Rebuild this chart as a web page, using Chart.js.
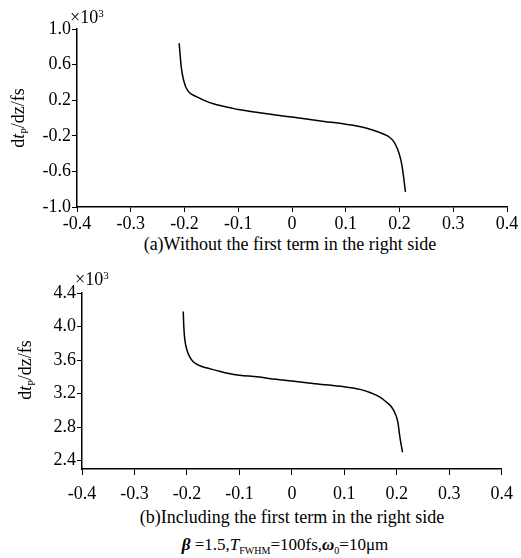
<!DOCTYPE html>
<html>
<head>
<meta charset="utf-8">
<script src="https://cdn.jsdelivr.net/npm/chart.js@4.4.1/dist/chart.umd.min.js"></script>
<style>
  body { margin: 0; background: #fff; width: 521px; height: 558px; position: relative; overflow: hidden;
         font-family: "Liberation Serif", "Times New Roman", serif; }
  canvas { position: absolute; left: 0; }
  .cap { position: absolute; left: 0; text-align: center; font-size: 18px; line-height: 18px; color: #000; white-space: nowrap; }
  .cap sub { font-size: 10px; vertical-align: -4px; line-height: 0; }
</style>
</head>
<body>
<canvas id="chartA" width="521" height="232" style="top:0"></canvas>
<canvas id="chartB" width="521" height="240" style="top:264px"></canvas>
<div class="cap" style="top:235px;width:580px">(a)Without the first term in the right side</div>
<div class="cap" style="top:508px;width:584px">(b)Including the first term in the right side</div>
<div class="cap" style="top:536px;width:570px;font-size:17px"><b><i>β</i></b> =1.5,<i>T</i><sub>FWHM</sub>=100fs,<b><i>ω</i></b><sub>0</sub>=10μm</div>

<script>
// x axis (z) ticks shared by both panels
const zTicks = [-0.4, -0.3, -0.2, -0.1, 0, 0.1, 0.2, 0.3, 0.4];

// panel (a): without the first term, values in units of 10^3 fs
const yTicksA = [-1.0, -0.6, -0.2, 0.2, 0.6, 1.0];
const zA  = [-0.210, -0.208, -0.206, -0.203, -0.200, -0.197, -0.190, -0.178, -0.160, -0.146, -0.130, -0.115, -0.100, -0.080, -0.050, -0.020, 0, 0.030, 0.060, 0.100, 0.130, 0.150, 0.170, 0.180, 0.190, 0.197, 0.202, 0.205, 0.208, 0.211];
const dtA = [0.84, 0.70, 0.57, 0.46, 0.39, 0.34, 0.28, 0.24, 0.19, 0.16, 0.135, 0.115, 0.095, 0.076, 0.05, 0.026, 0.01, -0.014, -0.038, -0.07, -0.10, -0.135, -0.18, -0.21, -0.27, -0.36, -0.46, -0.55, -0.68, -0.83];

// panel (b): including the first term
const yTicksB = [2.4, 2.8, 3.2, 3.6, 4.0, 4.4];
const zB  = [-0.207, -0.206, -0.204, -0.200, -0.195, -0.188, -0.178, -0.165, -0.146, -0.120, -0.100, -0.066, -0.030, 0, 0.040, 0.100, 0.130, 0.150, 0.170, 0.180, 0.190, 0.197, 0.202, 0.205, 0.208, 0.211];
const dtB = [4.18, 4.00, 3.84, 3.72, 3.64, 3.58, 3.54, 3.51, 3.48, 3.44, 3.42, 3.40, 3.37, 3.35, 3.32, 3.28, 3.25, 3.21, 3.15, 3.10, 3.04, 2.96, 2.86, 2.72, 2.60, 2.50];

const tickFont = { family: '"Liberation Serif", "Times New Roman", serif', size: 18 };

// draws the "×10³" multiplier and the rotated y title dt_P/dz/fs
const axisText = {
  id: 'axisText',
  afterDraw(chart) {
    const o = chart.options.plugins.axisText;
    const { ctx, chartArea: a } = chart;
    ctx.save();
    ctx.fillStyle = '#000';
    ctx.textBaseline = 'alphabetic';
    ctx.font = '18px "Liberation Serif"';
    const x0 = a.left - 7;
    ctx.fillText('×10', x0, a.top - o.expDrop);
    const w = ctx.measureText('×10').width;
    ctx.font = '11px "Liberation Serif"';
    ctx.fillText('3', x0 + w, a.top - o.expDrop - 6);

    // y title pieces
    const parts = [
      { t: 'd', f: '18px "Liberation Serif"', dy: 0 },
      { t: 't', f: 'italic 18px "Liberation Serif"', dy: 0 },
      { t: 'P', f: '10px "Liberation Serif"', dy: 4 },
      { t: '/dz/fs', f: '18px "Liberation Serif"', dy: 0 }
    ];
    let total = 0;
    parts.forEach(p => { ctx.font = p.f; p.w = ctx.measureText(p.t).width; total += p.w; });
    const cy = (a.top + a.bottom) / 2 + o.titleShift;
    ctx.translate(o.titleX, cy);
    ctx.rotate(-Math.PI / 2);
    let x = -total / 2;
    parts.forEach(p => { ctx.font = p.f; ctx.fillText(p.t, x, p.dy); x += p.w; });
    ctx.restore();
  }
};

function makeChart(id, z, dt, yTicks, yMin, yMax, p) {
  return new Chart(document.getElementById(id), {
    type: 'scatter',
    data: {
      datasets: [{
        data: z.map((v, i) => ({ x: v, y: dt[i] })),
        showLine: true,
        borderColor: '#000',
        borderWidth: 1.5,
        pointRadius: 0,
        cubicInterpolationMode: 'monotone'
      }]
    },
    options: {
      responsive: false,
      animation: false,
      layout: { padding: { top: 29, right: 14, bottom: 0, left: 0 } },
      plugins: {
        legend: { display: false },
        tooltip: { enabled: false },
        axisText: { titleX: p.titleX, titleShift: p.titleShift, expDrop: p.expDrop }
      },
      scales: {
        x: {
          type: 'linear', min: -0.4, max: 0.4,
          afterBuildTicks: ax => { ax.ticks = zTicks.map(v => ({ value: v })); },
          afterFit: ax => { ax.height = p.xHeight; },
          grid: { drawOnChartArea: false, drawTicks: true, tickLength: p.xTickLen, color: '#000' },
          border: { display: true, color: '#000', width: 1.5 },
          ticks: { color: '#000', font: tickFont, padding: p.xPad, maxRotation: 0,
                   callback: v => (v === 0 ? '0' : v.toFixed(1)) }
        },
        y: {
          type: 'linear', min: yMin, max: yMax,
          afterBuildTicks: ax => { ax.ticks = yTicks.map(v => ({ value: v })); },
          afterFit: ax => { ax.width = p.yWidth; },
          grid: { drawOnChartArea: false, drawTicks: true, tickLength: 5, color: '#000' },
          border: { display: true, color: '#000', width: 1.5 },
          ticks: { color: '#000', font: tickFont, padding: 1, callback: v => v.toFixed(1) }
        }
      }
    },
    plugins: [axisText]
  });
}

makeChart('chartA', zA, dtA, yTicksA, -1.0, 1.0,
  { yWidth: 77, xHeight: 25, xTickLen: 5, xPad: 1, titleX: 24, titleShift: 0, expDrop: 6 });
makeChart('chartB', zB, dtB, yTicksB, 2.3, 4.4,
  { yWidth: 82, xHeight: 35, xTickLen: 6, xPad: 8, titleX: 31, titleShift: -11, expDrop: 8 });
</script>
</body>
</html>
